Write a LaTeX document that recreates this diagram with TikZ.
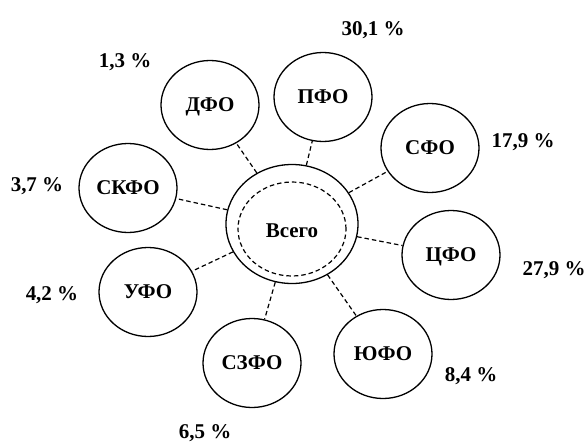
\documentclass[tikz,border=0pt]{standalone}
\usepackage{fontspec}
\setmainfont{Liberation Serif}
\usetikzlibrary{shapes.geometric}
\begin{document}
\begin{tikzpicture}[x=1pt,y=-1pt,
  region/.style={draw,ellipse,line width=1.3pt,minimum width=98pt,minimum height=89pt,inner sep=0pt,
    font=\fontsize{21}{24}\selectfont\bfseries,text height=13.5pt,text depth=0pt},
  pct/.style={anchor=base,inner sep=0pt,font=\fontsize{21}{24}\selectfont\bfseries},
  link/.style={line width=1.2pt,dash pattern=on 4.5pt off 3pt}]
\useasboundingbox (0,0) rectangle (587,442);
\node[draw,ellipse,line width=1.3pt,minimum width=132pt,minimum height=119pt,inner sep=0pt] (all) at (292,224) {};
\node[draw,ellipse,line width=1.2pt,dash pattern=on 4.5pt off 3pt,minimum width=108pt,minimum height=94pt,inner sep=0pt] (inner) at (292,229) {};
\node[inner sep=0pt,font=\fontsize{21}{24}\selectfont\bfseries,text height=13.5pt,text depth=0pt] (lbl) at (292,231) {Всего};
\node[region] (dfo) at (210,105) {ДФО};
\node[region] (pfo) at (323,97) {ПФО};
\node[region] (sfo) at (430,148) {СФО};
\node[region] (cfo) at (451,255) {ЦФО};
\node[region] (yufo) at (383,354) {ЮФО};
\node[region] (szfo) at (252,363) {СЗФО};
\node[region] (ufo) at (148,292) {УФО};
\node[region] (skfo) at (128,188) {СКФО};
\foreach \n in {dfo,pfo,sfo,cfo,yufo,szfo,ufo,skfo}{\draw[link] (all) -- (\n);}
\node[pct] (p1) at (373,35) {30,1 \%};
\node[pct] (p2) at (125,67) {1,3 \%};
\node[pct] (p3) at (523,147) {17,9 \%};
\node[pct] (p4) at (37,191) {3,7 \%};
\node[pct] (p5) at (554,275) {27,9 \%};
\node[pct] (p6) at (52,300) {4,2 \%};
\node[pct] (p7) at (471,381) {8,4 \%};
\node[pct] (p8) at (205,438) {6,5 \%};
\end{tikzpicture}
\end{document}
